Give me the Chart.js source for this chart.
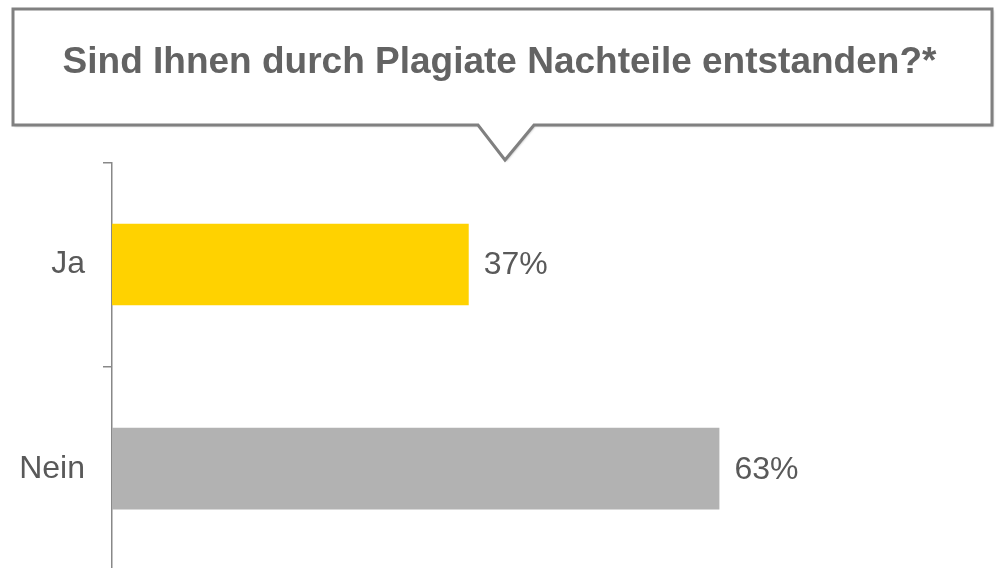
<!DOCTYPE html>
<html>
<head>
<meta charset="utf-8">
<script src="https://cdn.jsdelivr.net/npm/chart.js@4"></script>
<style>
    html, body { margin: 0; padding: 0; background: #fff; overflow: hidden; }
    #wrap { position: relative; width: 1000px; height: 608px; }
</style>
</head>
<body>
<div id="wrap"><canvas id="plagiatChart"></canvas></div>
<script>
const categories = ['Ja', 'Nein'];
const shares = [37, 63];
const barColors = ['#FFD200', '#B2B2B2'];
const question = 'Sind Ihnen durch Plagiate Nachteile entstanden?*';

/* speech bubble behind the title */
const calloutBox = {
    id: 'calloutBox',
    beforeDraw(chart) {
        const ctx = chart.ctx;
        ctx.save();
        ctx.beginPath();
        ctx.moveTo(13, 9);
        ctx.lineTo(992, 9);
        ctx.lineTo(992, 125);
        ctx.lineTo(534, 125);
        ctx.lineTo(505, 160);
        ctx.lineTo(478, 125);
        ctx.lineTo(13, 125);
        ctx.closePath();
        ctx.shadowColor = 'rgba(0,0,0,0.25)';
        ctx.shadowOffsetX = 1.5;
        ctx.shadowOffsetY = 1.5;
        ctx.shadowBlur = 2;
        ctx.fillStyle = '#fff';
        ctx.fill();
        ctx.shadowColor = 'transparent';
        ctx.lineWidth = 3;
        ctx.strokeStyle = '#808080';
        ctx.stroke();
        ctx.restore();
    }
};

/* percent labels right of the bars */
const valueLabels = {
    id: 'valueLabels',
    afterDatasetsDraw(chart) {
        const ctx = chart.ctx;
        const meta = chart.getDatasetMeta(0);
        ctx.save();
        ctx.font = '32px "Liberation Sans", Arial, sans-serif';
        ctx.fillStyle = '#595959';
        ctx.textBaseline = 'middle';
        ctx.textAlign = 'left';
        meta.data.forEach(function (bar, i) {
            ctx.fillText(shares[i] + '%', bar.x + 15, bar.y + 1);
        });
        ctx.restore();
    }
};

new Chart(document.getElementById('plagiatChart'), {
    type: 'bar',
    data: {
        labels: categories,
        datasets: [{
            data: shares,
            backgroundColor: barColors,
            borderWidth: 0,
            categoryPercentage: 0.4,
            barPercentage: 1
        }]
    },
    options: {
        indexAxis: 'y',
        responsive: true,
        maintainAspectRatio: false,
        animation: false,
        layout: { padding: { left: 0, right: 1, top: 0, bottom: 10 } },
        plugins: {
            legend: { display: false },
            tooltip: { enabled: false },
            title: {
                display: true,
                text: question,
                color: '#636363',
                font: { family: '"Liberation Sans", Arial, sans-serif', size: 37, weight: 'bold', lineHeight: 1.2 },
                padding: { top: 41, bottom: 77 }
            }
        },
        scales: {
            x: { display: false, min: 0, max: 92 },
            y: {
                afterFit: function (scale) { scale.width = 112; },
                grid: {
                    offset: true,
                    drawOnChartArea: false,
                    drawTicks: true,
                    tickLength: 9,
                    color: '#888',
                    lineWidth: 1.5
                },
                border: { color: '#888', width: 1.5 },
                ticks: {
                    color: '#595959',
                    padding: 18,
                    font: { family: '"Liberation Sans", Arial, sans-serif', size: 32 }
                }
            }
        }
    },
    plugins: [calloutBox, valueLabels]
});
</script>
</body>
</html>
